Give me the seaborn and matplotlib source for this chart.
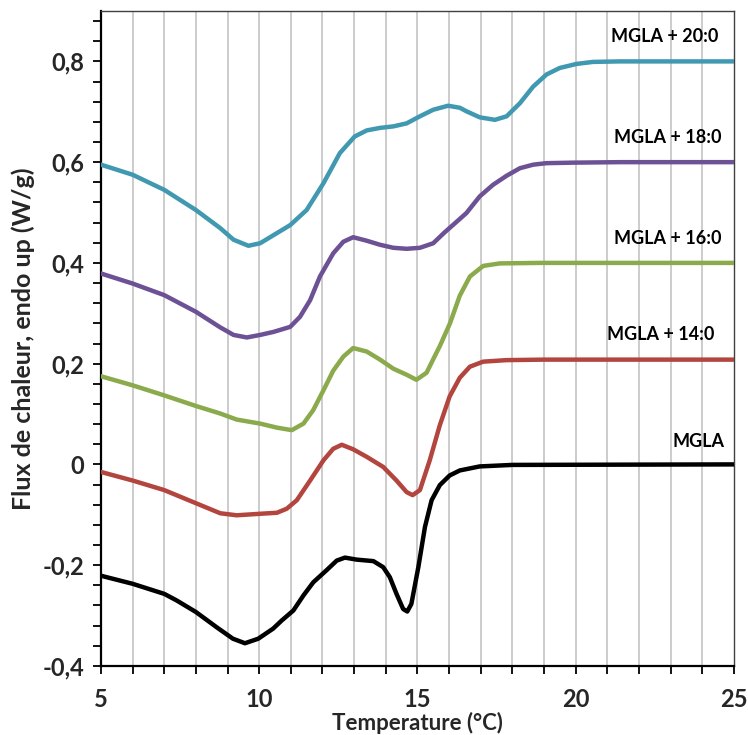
import matplotlib
matplotlib.use("Agg")
import matplotlib.pyplot as plt
import matplotlib.ticker as mticker
import seaborn as sns
import pandas as pd

# DSC curves (temperature in °C, heat flow in W/g)
t_20 = [5.0, 6.0, 7.0, 8.0, 8.77, 9.19, 9.66, 10.03, 10.45, 10.98, 11.5, 12.03, 12.55,
        13.02, 13.4, 13.82, 14.24, 14.66, 15.08, 15.5, 15.97, 16.34, 16.55, 16.97, 17.45,
        17.82, 18.24, 18.66, 19.08, 19.5, 20.03, 20.55, 21.4, 25.0]
f_20 = [0.595, 0.575, 0.545, 0.505, 0.469, 0.446, 0.434, 0.439, 0.455, 0.475, 0.505,
        0.558, 0.618, 0.651, 0.663, 0.668, 0.671, 0.677, 0.691, 0.704, 0.712, 0.708,
        0.701, 0.689, 0.684, 0.691, 0.717, 0.750, 0.774, 0.787, 0.795, 0.799, 0.800, 0.800]

t_18 = [5.0, 6.0, 7.0, 8.0, 8.77, 9.19, 9.61, 10.03, 10.45, 10.98, 11.29, 11.61, 11.92,
        12.34, 12.66, 12.97, 13.4, 13.82, 14.24, 14.66, 15.08, 15.5, 15.85, 16.3, 16.55,
        16.97, 17.39, 17.82, 18.24, 18.66, 19.08, 19.92, 21.4, 25.0]
f_18 = [0.379, 0.359, 0.336, 0.303, 0.272, 0.257, 0.252, 0.257, 0.263, 0.273, 0.293,
        0.326, 0.373, 0.419, 0.442, 0.451, 0.444, 0.436, 0.430, 0.428, 0.430, 0.439,
        0.460, 0.485, 0.499, 0.532, 0.555, 0.573, 0.588, 0.595, 0.598, 0.599, 0.600, 0.600]

t_16 = [5.0, 6.0, 7.0, 8.0, 8.77, 9.29, 10.03, 10.56, 11.03, 11.4, 11.71, 12.03, 12.34,
        12.66, 12.97, 13.4, 13.82, 14.24, 14.66, 14.97, 15.29, 15.55, 15.71, 16.03, 16.34,
        16.66, 17.08, 17.6, 18.87, 25.0]
f_16 = [0.175, 0.157, 0.137, 0.116, 0.101, 0.089, 0.081, 0.073, 0.068, 0.081, 0.108,
        0.147, 0.186, 0.214, 0.231, 0.224, 0.208, 0.190, 0.178, 0.168, 0.182, 0.215,
        0.235, 0.280, 0.335, 0.373, 0.394, 0.399, 0.400, 0.400]

t_14 = [5.0, 6.0, 7.0, 8.0, 8.77, 9.29, 10.03, 10.56, 10.87, 11.19, 11.61, 12.03, 12.34,
        12.61, 12.97, 13.4, 13.92, 14.34, 14.66, 14.85, 15.08, 15.39, 15.71, 16.02, 16.34,
        16.66, 17.08, 17.82, 19.0, 25.0]
f_14 = [-0.015, -0.032, -0.051, -0.077, -0.097, -0.101, -0.098, -0.096, -0.088, -0.071,
        -0.032, 0.008, 0.031, 0.039, 0.030, 0.015, -0.005, -0.032, -0.055, -0.061, -0.051,
        0.008, 0.078, 0.135, 0.172, 0.194, 0.204, 0.207, 0.208, 0.208]

t_mgla = [5.0, 6.0, 7.0, 7.39, 8.0, 8.65, 9.17, 9.55, 9.97, 10.44, 10.71, 11.08, 11.4,
          11.71, 12.13, 12.45, 12.71, 13.08, 13.61, 13.92, 14.13, 14.34, 14.55, 14.68,
          14.81, 15.03, 15.24, 15.45, 15.71, 16.02, 16.34, 16.97, 18.0, 25.0]
f_mgla = [-0.221, -0.237, -0.257, -0.270, -0.293, -0.323, -0.346, -0.355, -0.346, -0.326,
          -0.310, -0.290, -0.260, -0.234, -0.210, -0.191, -0.185, -0.189, -0.192, -0.204,
          -0.224, -0.257, -0.287, -0.292, -0.277, -0.204, -0.124, -0.071, -0.041, -0.022,
          -0.012, -0.004, -0.001, 0.0]

names = ["MGLA + 20:0", "MGLA + 18:0", "MGLA + 16:0", "MGLA + 14:0", "MGLA"]
colors = ["#4099B1", "#6C5195", "#8AAA4C", "#B3453F", "#000000"]
label_y = [0.85, 0.648, 0.449, 0.257, 0.045]
label_x = [24.5, 24.6, 24.6, 24.4, 24.7]

series = [(t_20, f_20), (t_18, f_18), (t_16, f_16), (t_14, f_14), (t_mgla, f_mgla)]
df = pd.concat(
    [pd.DataFrame({"temp": t, "flux": f, "sample": n}) for (t, f), n in zip(series, names)],
    ignore_index=True,
)

sns.set_style("white")
plt.rcParams["font.family"] = ["Lato", "DejaVu Sans"]
plt.rcParams["font.weight"] = "bold"

fig = plt.figure(figsize=(7.48, 7.35), dpi=100)
ax = fig.add_axes([0.135, 0.094, 0.846, 0.891])

# vertical grid lines every degree
for x in range(6, 25):
    ax.axvline(x, color="#C4C4C4", lw=1.2, zorder=0)

sns.lineplot(data=df, x="temp", y="flux", hue="sample", palette=dict(zip(names, colors)),
             sort=False, estimator=None, lw=3.2, legend=False, ax=ax, zorder=3,
             solid_joinstyle="round", solid_capstyle="round")

for n, xl, yl in zip(names, label_x, label_y):
    ax.text(xl, yl, n, ha="right", va="center", fontsize=13, fontweight="bold", color="black")

ax.set_xlim(5, 25)
ax.set_ylim(-0.4, 0.9)
ax.xaxis.set_major_locator(mticker.MultipleLocator(5))
ax.xaxis.set_minor_locator(mticker.MultipleLocator(1))
ax.yaxis.set_major_locator(mticker.FixedLocator([-0.4, -0.2, 0, 0.2, 0.4, 0.6, 0.8]))
ax.yaxis.set_minor_locator(mticker.MultipleLocator(0.04))
ax.yaxis.set_major_formatter(mticker.FuncFormatter(
    lambda v, p: ("%g" % round(v, 2)).replace(".", ",") if abs(v) > 1e-9 else "0"))

ax.tick_params(axis="both", which="both", direction="out", length=6, width=1.3, color="black")
ax.tick_params(axis="x", which="major", labelsize=17, pad=10)
ax.tick_params(axis="y", which="major", labelsize=17, pad=6)
ax.tick_params(left=True, bottom=True, which="both")
for lab in ax.get_xticklabels() + ax.get_yticklabels():
    lab.set_fontweight("bold")

for side in ["top", "right"]:
    ax.spines[side].set_color("#404040")
    ax.spines[side].set_linewidth(1.0)
for side in ["left", "bottom"]:
    ax.spines[side].set_color("black")
    ax.spines[side].set_linewidth(1.6)

ax.set_xlabel("Temperature (°C)", fontsize=16, fontweight="bold")
ax.xaxis.set_label_coords(0.5, -0.07)
ax.set_ylabel("Flux de chaleur, endo up (W/g)", fontsize=18, fontweight="bold", labelpad=5)

fig.savefig("out.png", dpi=100)
